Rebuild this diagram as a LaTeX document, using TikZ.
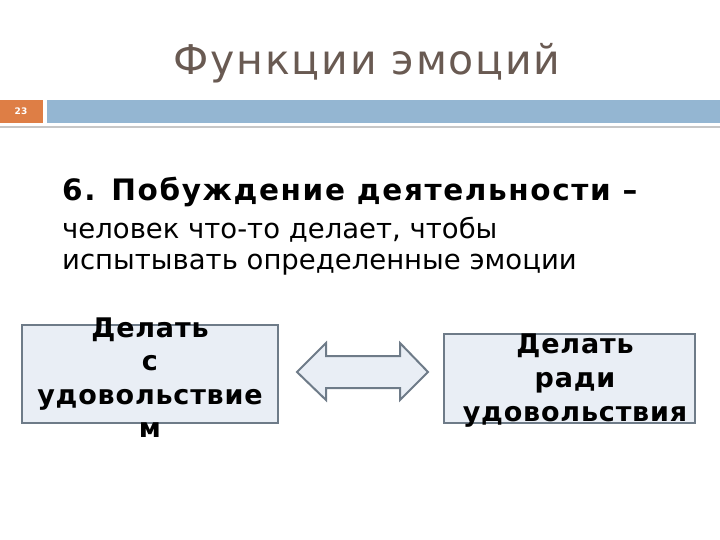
\documentclass[tikz,border=0pt]{standalone}
\usepackage{fontspec}
\setmainfont{DejaVu Sans}
\definecolor{titlecol}{HTML}{695A52}
\definecolor{slideorange}{HTML}{DE7E45}
\definecolor{slideblue}{HTML}{94B6D2}
\definecolor{boxfill}{HTML}{E9EEF5}
\definecolor{boxline}{HTML}{6E7B88}

\begin{document}
\begin{tikzpicture}[x=1pt,y=-1pt,
  box/.style={draw=boxline, line width=2.5pt, fill=boxfill, inner sep=0pt},
  boxtext/.style={anchor=base, inner sep=0pt,
    font=\addfontfeature{LetterSpace=3}\bfseries\fontsize{27}{34}\selectfont},
  bodytext/.style={anchor=base west, inner sep=0pt}]
\useasboundingbox (0,0) rectangle (720,540);

\node[anchor=base, text=titlecol,
  font=\addfontfeature{LetterSpace=4.5}\fontsize{41}{48}\selectfont] (title) at (367,75) {Функции эмоций};

\fill[slideorange] (0,100) rectangle (43,123);
\node[text=white, font=\bfseries\fontsize{9}{11}\selectfont] (num) at (21,111.5) {23};
\fill[slideblue] (47,100) rectangle (720,123);
\draw[black!22, line width=2pt] (0,127) -- (720,127);

\node[bodytext, font=\addfontfeature{LetterSpace=5.5}\bfseries\fontsize{29.5}{30}\selectfont] (head) at (62,201) {6. Побуждение деятельности --};
\node[bodytext, font=\fontsize{27.5}{30}\selectfont] (line1) at (62,238) {человек что-то делает, чтобы};
\node[bodytext, font=\fontsize{27.5}{30}\selectfont] (line2) at (62,269) {испытывать определенные эмоции};

\node[box, minimum width=256, minimum height=98] (left) at (150,374) {};
\foreach \txt [count=\i] in {Делать,с,удовольствие,м}
  \node[boxtext] (left\i) at (150,303.5+33.5*\i) {\txt};

\node[box, minimum width=251, minimum height=89] (right) at (569.5,378.5) {};
\foreach \txt [count=\i] in {Делать,ради,удовольствия}
  \node[boxtext] (right\i) at (575,319+34*\i) {\txt};

\draw[draw=boxline, line width=2pt, fill=boxfill, line join=miter]
  (297,372) -- (326,343) -- (326,356) -- (400,356) -- (400,343) -- (428,372)
  -- (400,400) -- (400,388) -- (326,388) -- (326,400) -- cycle;
\end{tikzpicture}
\end{document}
